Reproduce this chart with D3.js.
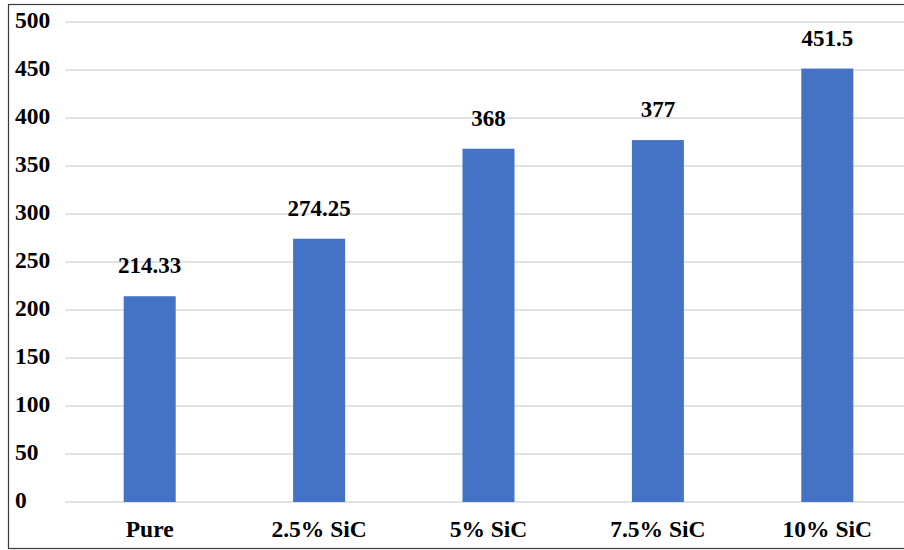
<!DOCTYPE html>
<html>
<head>
<meta charset="utf-8">
<script src="https://cdn.jsdelivr.net/npm/d3@7"></script>
<style>
  html, body { margin: 0; padding: 0; background: #fff; }
  svg { display: block; }
  text { font-family: "Liberation Serif", "Times New Roman", serif; font-weight: bold; fill: #000; }
</style>
</head>
<body>
<svg id="chart" width="904" height="550"></svg>
<script>
// Categories and measured values
const categories = ["Pure", "2.5% SiC", "5% SiC", "7.5% SiC", "10% SiC"];
const values = [214.33, 274.25, 368, 377, 451.5];
const valueLabels = ["214.33", "274.25", "368", "377", "451.5"];
const yTicks = [0, 50, 100, 150, 200, 250, 300, 350, 400, 450, 500];

const svg = d3.select("#chart");
const W = 904, H = 550;

// Plot area (the category band runs slightly past the right edge of the frame)
const plotLeft = 65, plotRight = 912, plotTop = 22, plotBottom = 502;

const x = d3.scaleBand()
  .domain(categories)
  .range([plotLeft, plotRight])
  .paddingInner(0.693)
  .paddingOuter(0.3465);

const y = d3.scaleLinear()
  .domain([0, 500])
  .range([plotBottom, plotTop]);

// Outer frame
svg.append("rect")
  .attr("x", 8.5).attr("y", 4.5)
  .attr("width", W + 10).attr("height", 544)
  .attr("fill", "none")
  .attr("stroke", "#3a3a3a")
  .attr("stroke-width", 1.2);

// Horizontal gridlines
svg.append("g")
  .selectAll("line")
  .data(yTicks)
  .join("line")
  .attr("x1", plotLeft).attr("x2", W)
  .attr("y1", d => y(d)).attr("y2", d => y(d))
  .attr("stroke", "#d9d9d9")
  .attr("stroke-width", 1.5);

// Y tick labels
svg.append("g")
  .selectAll("text")
  .data(yTicks)
  .join("text")
  .attr("x", 15)
  .attr("y", d => y(d) + 6)
  .attr("text-anchor", "start")
  .attr("font-size", 23.5)
  .text(d => d);

// Bars
svg.append("g")
  .selectAll("rect")
  .data(values)
  .join("rect")
  .attr("x", (d, i) => x(categories[i]))
  .attr("y", d => y(d))
  .attr("width", x.bandwidth())
  .attr("height", d => y(0) - y(d))
  .attr("fill", "#4472C4");

// Value labels above the bars
svg.append("g")
  .selectAll("text")
  .data(values)
  .join("text")
  .attr("x", (d, i) => x(categories[i]) + x.bandwidth() / 2)
  .attr("y", d => y(d) - 23)
  .attr("text-anchor", "middle")
  .attr("font-size", 23)
  .text((d, i) => valueLabels[i]);

// Category labels
svg.append("g")
  .selectAll("text")
  .data(categories)
  .join("text")
  .attr("x", d => x(d) + x.bandwidth() / 2)
  .attr("y", 537)
  .attr("text-anchor", "middle")
  .attr("font-size", 23.5)
  .text(d => d);
</script>
</body>
</html>
